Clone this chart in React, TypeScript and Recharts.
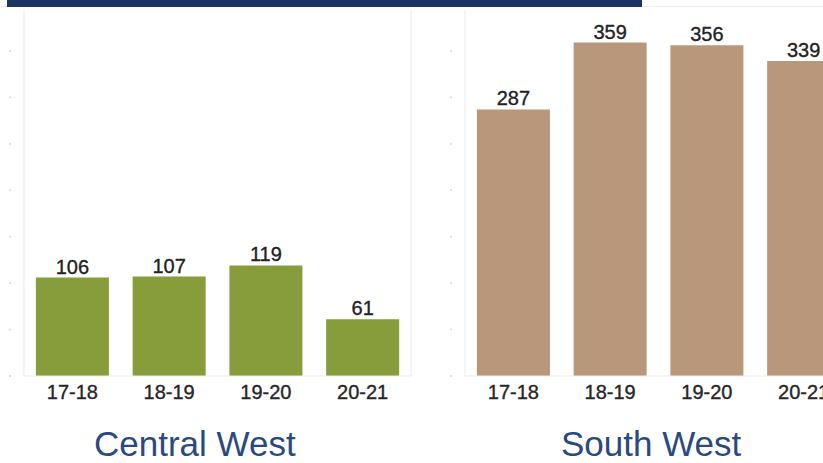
import { BarChart, Bar, XAxis, YAxis, LabelList } from 'recharts';

const years = ['17-18', '18-19', '19-20', '20-21'];
const centralWest = [106, 107, 119, 61];
const southWest = [287, 359, 356, 339];
const yTicks = [0, 50, 100, 150, 200, 250, 300, 350];

const FONT = '"Liberation Sans", Arial, sans-serif';
const LINE = '#ececec';

const toRows = (values: number[]) => years.map((year, i) => ({ year, value: values[i] }));

// faint dot in place of a y tick label
const TickDot = (props: any) => (
  <rect x={props.x - 1} y={props.y - 1} width={2} height={2} fill="#e2e2e2" />
);

function Panel({ values, color, left, width }: { values: number[]; color: string; left: number; width: number }) {
  return (
    <div style={{ position: 'absolute', left, top: 0 }}>
      <BarChart
        width={width}
        height={463}
        data={toRows(values)}
        margin={{ top: 10, right: 0, bottom: 57, left: 0 }}
        barCategoryGap="12.3%"
      >
        <XAxis
          dataKey="year"
          height={30}
          tickLine={false}
          tickSize={0}
          tickMargin={9}
          axisLine={{ stroke: LINE }}
          tick={{ fill: '#262626', fontSize: 20, fontFamily: FONT, stroke: '#262626', strokeWidth: 0.35 }}
          interval={0}
        />
        <YAxis
          domain={[0, 394]}
          ticks={yTicks}
          width={24}
          tickLine={false}
          tickSize={0}
          tickMargin={14}
          axisLine={{ stroke: LINE }}
          tick={<TickDot />}
        />
        <YAxis
          yAxisId="edge"
          orientation="right"
          width={9}
          tick={false}
          tickLine={false}
          axisLine={{ stroke: LINE }}
        />
        <Bar dataKey="value" fill={color} isAnimationActive={false}>
          <LabelList
            dataKey="value"
            position="top"
            offset={4}
            fill="#222"
            stroke="#222"
            strokeWidth={0.35}
            fontSize={20}
            fontFamily={FONT}
          />
        </Bar>
      </BarChart>
    </div>
  );
}

const titleStyle = {
  position: 'absolute' as const,
  top: 424,
  fontSize: 35,
  fontFamily: FONT,
  color: '#2a4a7d',
  lineHeight: '40px',
  whiteSpace: 'nowrap' as const,
};

export default function App() {
  return (
    <div
      style={{
        position: 'absolute',
        left: 0,
        top: 0,
        width: 823,
        height: 463,
        overflow: 'hidden',
        background: '#fff',
      }}
    >
      <div style={{ position: 'absolute', left: 0, top: 6, width: 823, height: 1, background: '#ededed' }} />
      <div style={{ position: 'absolute', left: 7, top: 0, width: 635, height: 7, background: '#1c3461' }} />
      <Panel values={centralWest} color="#879c3a" left={0} width={420} />
      <Panel values={southWest} color="#b9977a" left={441} width={420} />
      <div style={{ ...titleStyle, left: 94 }}>Central West</div>
      <div style={{ ...titleStyle, left: 561 }}>South West</div>
    </div>
  );
}
